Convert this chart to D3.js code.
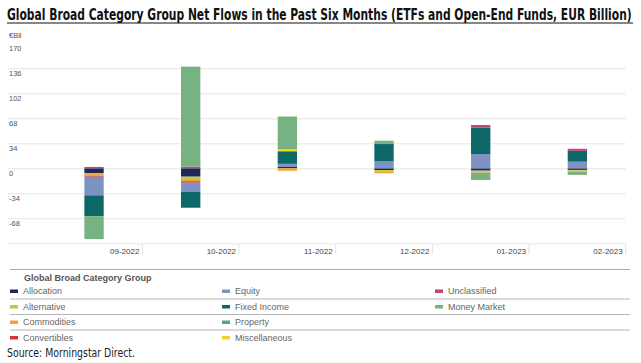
<!DOCTYPE html>
<html>
<head>
<meta charset="utf-8">
<script src="https://cdn.jsdelivr.net/npm/d3@7"></script>
<style>
  body { margin: 0; background: #fff; }
  svg { display: block; font-family: "Liberation Sans", Arial, sans-serif; }
  .grid line { stroke: #e4e4e4; }
  .grid .domain { display: none; }
  .grid text { fill: #555; font-size: 7.5px; }
  .xaxis .domain { display: none; }
  .xaxis text { fill: #444; font-size: 8px; }
  .xaxis line { stroke: #e0e0e0; }
</style>
</head>
<body>
<svg id="chart" width="641" height="363"></svg>
<script>
// months and stacked series (EUR billion)
const months = ['09-2022', '10-2022', '11-2022', '12-2022', '01-2023', '02-2023'];
const allocation    = [-6.4, -11.4, 2.4, -2.3, -3.2, -2.2];
const alternative   = [-1.4, -3.0, 0, -2.0, -1.3, -1.0];
const commodities   = [-2.7, -3.2, -3.4, -2.5, -1.4, -1.3];
const convertibles  = [-1.0, -2.0, 0, 0, 0, 0];
const equity        = [-25.3, -12.2, 3.7, 9.9, 19.4, 9.0];
const fixedIncome   = [-28.6, -21.8, 17.1, 23.1, 35.8, 14.8];
const miscellaneous = [0, 0, 2.7, 0, 0, 0];
const property      = [0, 0, 0, 0, 0, 0];
const unclassified  = [1.8, 2.2, 0, 0, 3.6, 2.7];
const moneyMarket   = [-30.9, 136.0, 44.5, 4.5, -10.0, -4.5];

const yTicks = [170, 136, 102, 68, 34, 0, -34, -68, -102];

const series = [
  { key: 'Allocation',    values: allocation,    color: '#1d2858' },
  { key: 'Alternative',   values: alternative,   color: '#bccb3c' },
  { key: 'Commodities',   values: commodities,   color: '#f0a53a' },
  { key: 'Convertibles',  values: convertibles,  color: '#d3362e' },
  { key: 'Equity',        values: equity,        color: '#7d93c3' },
  { key: 'Fixed Income',  values: fixedIncome,   color: '#0d6767' },
  { key: 'Miscellaneous', values: miscellaneous, color: '#f1d326' },
  { key: 'Property',      values: property,      color: '#55a68c' },
  { key: 'Unclassified',  values: unclassified,  color: '#c4417d' },
  { key: 'Money Market',  values: moneyMarket,   color: '#76b282' }
];

// legend layout (row-major, three columns)
const legendRows = [
  ['Allocation', 'Equity', 'Unclassified'],
  ['Alternative', 'Fixed Income', 'Money Market'],
  ['Commodities', 'Property'],
  ['Convertibles', 'Miscellaneous']
];

const table = months.map((m, i) => {
  const row = { month: m };
  series.forEach(s => row[s.key] = s.values[i]);
  return row;
});
const colorOf = Object.fromEntries(series.map(s => [s.key, s.color]));

const svg = d3.select('#chart');
const plot = { left: 45.7, right: 625.7, top: 43.3, bottom: 243.3 };
const narrow = '"Liberation Sans Narrow", "DejaVu Sans Condensed", "Arial Narrow", sans-serif';

const x = d3.scaleBand()
  .domain(months)
  .range([plot.left, plot.right])
  .paddingInner(0.8)
  .paddingOuter(0.4);

const y = d3.scaleLinear()
  .domain([-102, 170])
  .range([plot.bottom, plot.top]);

// title: keep the tall glyphs, squeeze horizontally to the underline width
const title = svg.append('text')
  .attr('x', 0).attr('y', 0)
  .attr('transform', 'translate(7,20)')
  .style('font-family', narrow)
  .style('font-weight', 'bold')
  .style('font-size', '16px')
  .attr('fill', '#111')
  .text('Global Broad Category Group Net Flows in the Past Six Months (ETFs and Open-End Funds, EUR Billion)');
const tw = title.node().getComputedTextLength();
if (tw > 625) title.attr('transform', `translate(7,20) scale(${(625 / tw).toFixed(4)},1)`);
svg.append('line')
  .attr('x1', 7).attr('x2', 633).attr('y1', 23).attr('y2', 23)
  .attr('stroke', '#111').attr('stroke-width', 1.2);

svg.append('text')
  .attr('x', 9).attr('y', 38)
  .attr('fill', '#555').style('font-size', '7.5px')
  .text('€Bil');

// gridlines + y labels
const grid = svg.append('g')
  .attr('class', 'grid')
  .attr('transform', `translate(${plot.right},0)`)
  .call(d3.axisLeft(y).tickValues(yTicks).tickSize(plot.right - 8).tickFormat(d => d === -102 ? '' : d));
grid.selectAll('.tick line').filter(d => d === 170).remove();
grid.selectAll('.tick text')
  .attr('text-anchor', 'start')
  .attr('x', -(plot.right - 9))
  .attr('dy', 7.5);

// x axis: labels right-aligned to the band boundaries
const step = x.step();
const xa = svg.append('g')
  .attr('class', 'xaxis')
  .attr('transform', `translate(0,${plot.bottom})`)
  .call(d3.axisBottom(x).tickSize(0).tickPadding(0));
xa.selectAll('.tick text')
  .attr('text-anchor', 'end')
  .attr('x', step / 2 - 3)
  .attr('y', 10.5)
  .attr('dy', 0);
xa.selectAll('.tick').append('line')
  .attr('x1', step / 2).attr('x2', step / 2)
  .attr('y1', 1).attr('y2', 11);

// stacked bars
const stacked = d3.stack()
  .keys(series.map(s => s.key))
  .offset(d3.stackOffsetDiverging)(table);

svg.append('g')
  .selectAll('g')
  .data(stacked)
  .join('g')
  .attr('fill', d => colorOf[d.key])
  .selectAll('rect')
  .data(d => d)
  .join('rect')
  .attr('x', d => x(d.data.month))
  .attr('width', x.bandwidth())
  .attr('y', d => y(Math.max(d[0], d[1])))
  .attr('height', d => Math.abs(y(d[0]) - y(d[1])));

// legend
svg.append('line')
  .attr('x1', 10).attr('x2', 630).attr('y1', 269.5).attr('y2', 269.5)
  .attr('stroke', '#aaa');
svg.append('text')
  .attr('x', 24).attr('y', 280.5)
  .attr('fill', '#555')
  .style('font-size', '9px').style('font-weight', 'bold')
  .text('Global Broad Category Group');

const colX = [10, 222, 435];
const rowY = [291, 306.5, 322, 337.5];
legendRows.forEach((row, r) => {
  if (r > 0) {
    svg.append('line')
      .attr('x1', 10).attr('x2', 630)
      .attr('y1', rowY[r] - 7.5).attr('y2', rowY[r] - 7.5)
      .attr('stroke', '#b5b5b5');
  }
  row.forEach((key, c) => {
    svg.append('rect')
      .attr('x', colX[c]).attr('y', rowY[r] - 1.5)
      .attr('width', 8).attr('height', 3.5)
      .attr('fill', colorOf[key]);
    svg.append('text')
      .attr('x', colX[c] + 13).attr('y', rowY[r] + 3.2)
      .attr('fill', '#666').style('font-size', '9px')
      .text(key);
  });
});

svg.append('text')
  .attr('x', 7).attr('y', 357)
  .attr('textLength', 128)
  .attr('lengthAdjust', 'spacingAndGlyphs')
  .style('font-family', narrow)
  .style('font-size', '12px')
  .attr('fill', '#222')
  .text('Source: Morningstar Direct.');
</script>
</body>
</html>
